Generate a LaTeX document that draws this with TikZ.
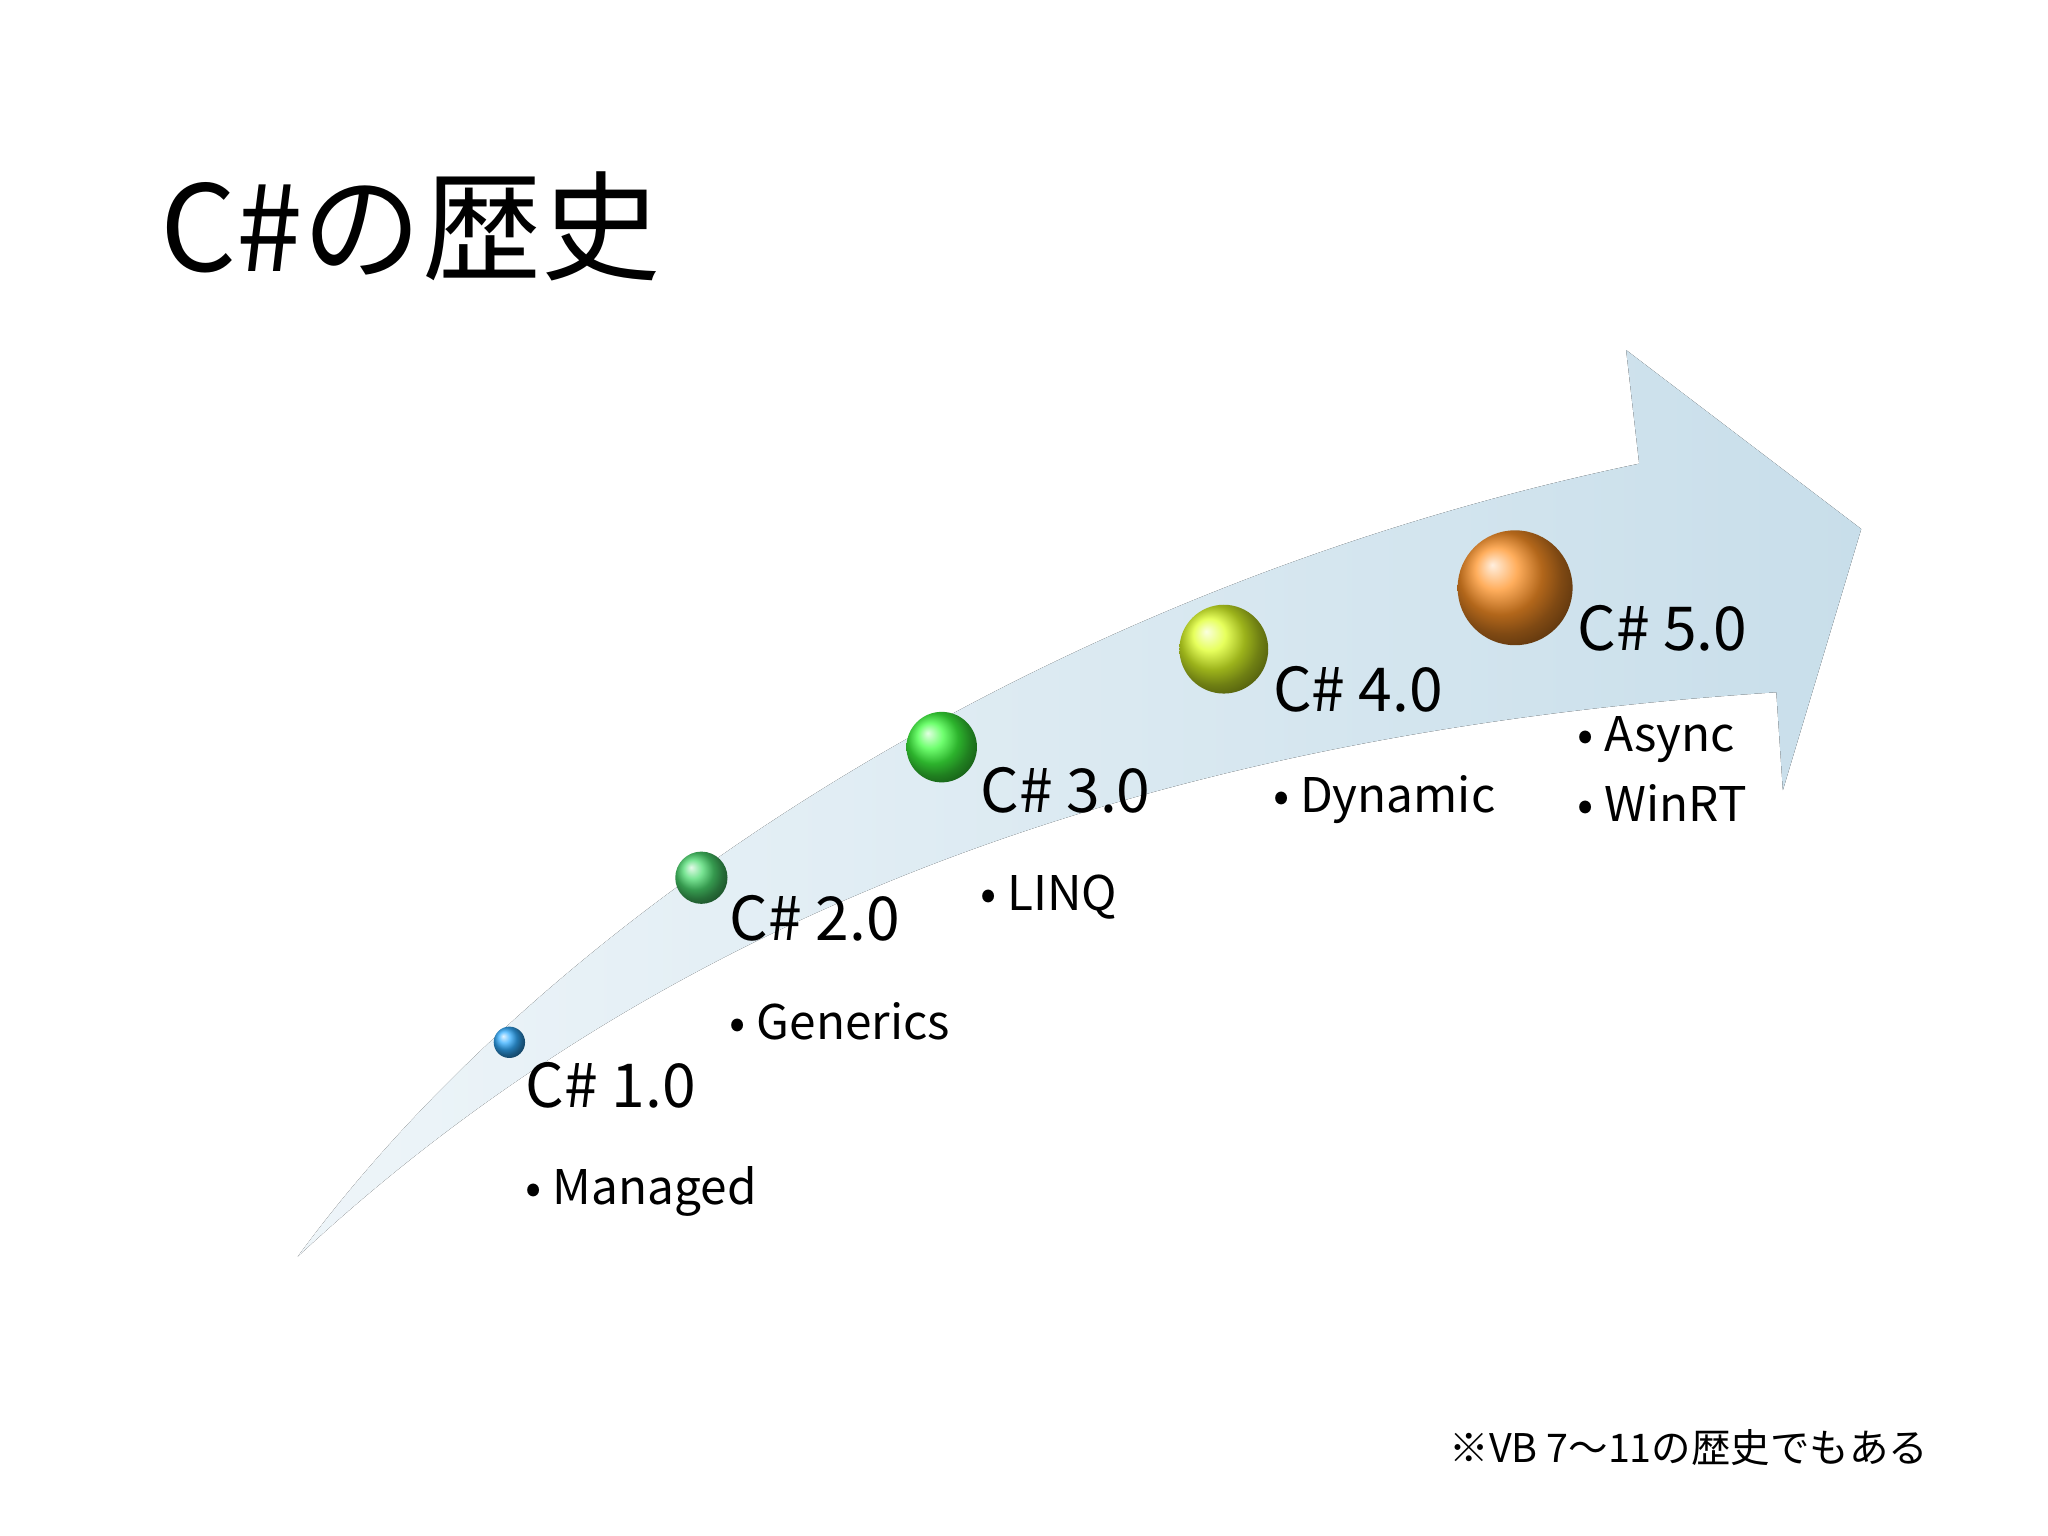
\documentclass[tikz,border=0pt]{standalone}
\usepackage{fontspec}
\setmainfont{Noto Sans CJK JP}
\definecolor{arrL}{RGB}{238,245,249}
\definecolor{arrR}{RGB}{200,222,234}
\begin{document}
\begin{tikzpicture}[x=0.1mm,y=-0.1mm,
  ver/.style={anchor=base west,inner sep=0pt,font=\fontsize{13.2}{15}\selectfont},
  bul/.style={anchor=base west,inner sep=0pt,font=\fontsize{10.4}{12}\selectfont},
  orb/.style={circle,shading=ball,inner sep=0pt}]
\useasboundingbox (0,0) rectangle (1568,1176);
\fill[left color=arrL,right color=arrR]
 (228,962) .. controls (420,700) and (800,450) .. (1255,355) -- (1245,268) -- (1425,405)
 -- (1365,605) -- (1360,530) .. controls (900,560) and (520,690) .. (228,962) -- cycle;
\node[anchor=base west,inner sep=0pt,font=\fontsize{26}{30}\selectfont] (t) at (122,208) {C\#の歴史};
\node[orb,ball color=cyan!60!blue!80!white,minimum size=2.4mm] (b1) at (390,798) {};
\node[orb,ball color=teal!40!green!70!white,minimum size=4mm] (b2) at (537,672) {};
\node[orb,ball color=green!75!white,minimum size=5.4mm] (b3) at (721,572) {};
\node[orb,ball color=yellow!85!green!85!white,minimum size=6.8mm] (b4) at (937,497) {};
\node[orb,ball color=orange!85!white,minimum size=8.8mm] (b5) at (1160,450) {};
\node[ver] (v1) at (402,848) {C\# 1.0};
\node[bul] (m1) at (402,922) {• Managed};
\node[ver] (v2) at (558,720) {C\# 2.0};
\node[bul] (m2) at (558,796) {• Generics};
\node[ver] (v3) at (750,622) {C\# 3.0};
\node[bul] (m3) at (750,697) {• LINQ};
\node[ver] (v4) at (974,545) {C\# 4.0};
\node[bul] (m4) at (974,622) {• Dynamic};
\node[ver] (v5) at (1207,498) {C\# 5.0};
\node[bul] (m5) at (1207,575) {• Async};
\node[bul] (m6) at (1207,629) {• WinRT};
\node[anchor=base east,inner sep=0pt,font=\fontsize{8.6}{10}\selectfont] (fn) at (1477,1120) {※VB 7～11の歴史でもある};
\end{tikzpicture}
\end{document}
